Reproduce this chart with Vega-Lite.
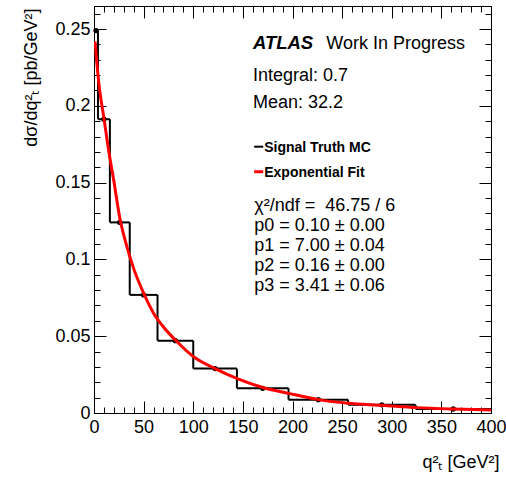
{
  "$schema": "https://vega.github.io/schema/vega-lite/v6.json",
  "width": 397,
  "height": 407,
  "autosize": "none",
  "padding": {"left": 94, "top": 6, "right": 15, "bottom": 64},
  "background": "white",
  "config": {
    "view": {"stroke": "black", "strokeWidth": 1},
    "font": "Liberation Sans",
    "axis": {
      "domainColor": "black", "domainWidth": 1, "tickColor": "black", "tickWidth": 1,
      "labelColor": "black", "labelFont": "Liberation Sans", "labelFontSize": 18,
      "titleColor": "black", "titleFont": "Liberation Sans", "titleFontSize": 18, "titleFontWeight": "normal",
      "grid": false, "labelOverlap": false, "labelFlush": false
    }
  },
  "datasets": {
    "hist": [
      {"lo": 0, "hi": 4, "center": 2, "val": 0.249},
      {"lo": 4, "hi": 16, "center": 10, "val": 0.1913},
      {"lo": 16, "hi": 36, "center": 26, "val": 0.1241},
      {"lo": 36, "hi": 64, "center": 50, "val": 0.0769},
      {"lo": 64, "hi": 100, "center": 82, "val": 0.0471},
      {"lo": 100, "hi": 144, "center": 122, "val": 0.0289},
      {"lo": 144, "hi": 196, "center": 170, "val": 0.0161},
      {"lo": 196, "hi": 256, "center": 226, "val": 0.0087},
      {"lo": 256, "hi": 324, "center": 290, "val": 0.0053},
      {"lo": 324, "hi": 400, "center": 362, "val": 0.0026}
    ],
    "fit": [
      {"q": 1, "f": 0.242}, {"q": 5, "f": 0.214}, {"q": 10, "f": 0.192}, {"q": 15, "f": 0.170},
      {"q": 20, "f": 0.151}, {"q": 26, "f": 0.127}, {"q": 32, "f": 0.111}, {"q": 40, "f": 0.094},
      {"q": 50, "f": 0.078}, {"q": 60, "f": 0.065}, {"q": 70, "f": 0.056}, {"q": 82, "f": 0.0475},
      {"q": 100, "f": 0.0368}, {"q": 122, "f": 0.0289}, {"q": 145, "f": 0.0222}, {"q": 170, "f": 0.0166},
      {"q": 196, "f": 0.0128}, {"q": 226, "f": 0.0087}, {"q": 256, "f": 0.0063}, {"q": 290, "f": 0.0050},
      {"q": 325, "f": 0.0035}, {"q": 362, "f": 0.0026}, {"q": 400, "f": 0.0020}
    ],
    "one": [{}]
  },
  "layer": [
    {
      "layer": [
        {
          "data": {"name": "hist"},
          "mark": {"type": "rule", "color": "black", "strokeWidth": 2},
          "encoding": {
            "x": {"field": "lo", "type": "quantitative", "scale": {"domain": [0, 400], "nice": false},
              "axis": {
                "orient": "bottom",
                "values": [0, 50, 100, 150, 200, 250, 300, 350, 400],
                "tickSize": -12,
                "labelPadding": 17, "labelOverlap": false, "labelFlush": false, "labelBound": false,
                "title": "q²ₜ [GeV²]",
                "titleAnchor": "end", "titleAlign": "right", "titleBaseline": "alphabetic",
                "titleX": 405, "titleY": 54
              }},
            "x2": {"field": "hi"},
            "y": {"field": "val", "type": "quantitative", "scale": {"domain": [0, 0.265], "nice": false},
              "axis": {
                "orient": "left",
                "values": [0, 0.05, 0.1, 0.15, 0.2, 0.25],
                "labelExpr": "format(datum.value, '~g')",
                "tickSize": -12,
                "labelPadding": 16, "labelOverlap": false, "labelFlush": false, "labelBound": false,
                "title": "dσ/dq²ₜ [pb/GeV²]",
                "titleAnchor": "end", "titleAlign": "right", "titleBaseline": "alphabetic", "titleAngle": 270,
                "titleX": -58, "titleY": 2
              }}
          }
        },
        {
          "data": {"name": "one"},
          "mark": {"type": "text", "text": "ATLAS", "fontSize": 18.5, "fontWeight": "bold", "fontStyle": "italic", "align": "left", "baseline": "alphabetic", "color": "black"},
          "encoding": {"x": {"datum": 160.1, "type": "quantitative"}, "y": {"datum": 0.237, "type": "quantitative"}}
        },
        {
          "data": {"name": "one"},
          "mark": {"type": "text", "text": "Work In Progress", "fontSize": 18, "align": "left", "baseline": "alphabetic", "color": "black"},
          "encoding": {"x": {"datum": 234, "type": "quantitative"}, "y": {"datum": 0.237, "type": "quantitative"}}
        },
        {
          "data": {"name": "one"},
          "mark": {"type": "text", "text": ["Integral: 0.7", "Mean: 32.2"], "lineHeight": 27.6, "fontSize": 18, "align": "left", "baseline": "alphabetic", "color": "black"},
          "encoding": {"x": {"datum": 160.1, "type": "quantitative"}, "y": {"datum": 0.2164, "type": "quantitative"}}
        },
        {
          "data": {"name": "one"},
          "mark": {"type": "rule", "color": "black", "strokeWidth": 2},
          "encoding": {"x": {"datum": 161.4, "type": "quantitative"}, "x2": {"datum": 170.5}, "y": {"datum": 0.1734, "type": "quantitative"}}
        },
        {
          "data": {"name": "one"},
          "mark": {"type": "text", "text": "Signal Truth MC", "fontSize": 14, "fontWeight": "bold", "align": "left", "baseline": "alphabetic", "color": "black"},
          "encoding": {"x": {"datum": 171.5, "type": "quantitative"}, "y": {"datum": 0.1701, "type": "quantitative"}}
        },
        {
          "data": {"name": "one"},
          "mark": {"type": "rule", "color": "#ff0000", "strokeWidth": 3},
          "encoding": {"x": {"datum": 161.4, "type": "quantitative"}, "x2": {"datum": 170.5}, "y": {"datum": 0.1571, "type": "quantitative"}}
        },
        {
          "data": {"name": "one"},
          "mark": {"type": "text", "text": "Exponential Fit", "fontSize": 14, "fontWeight": "bold", "align": "left", "baseline": "alphabetic", "color": "black"},
          "encoding": {"x": {"datum": 171.5, "type": "quantitative"}, "y": {"datum": 0.1539, "type": "quantitative"}}
        },
        {
          "data": {"name": "one"},
          "mark": {"type": "text", "text": ["χ²/ndf = \u00a046.75 / 6", "p0 = 0.10 ± 0.00", "p1 = 7.00 ± 0.04", "p2 = 0.16 ± 0.00", "p3 = 3.41 ± 0.06"], "lineHeight": 20, "fontSize": 18, "align": "left", "baseline": "alphabetic", "color": "black"},
          "encoding": {"x": {"datum": 161.4, "type": "quantitative"}, "y": {"datum": 0.1317, "type": "quantitative"}}
        }
      ]
    },
    {
      "data": {"name": "hist"},
      "transform": [
        {"window": [{"op": "lag", "field": "val", "as": "prev"}], "sort": [{"field": "lo"}]},
        {"filter": "datum.prev != null"}
      ],
      "mark": {"type": "rule", "color": "black", "strokeWidth": 2},
      "encoding": {
        "x": {"field": "lo", "type": "quantitative",
          "axis": {"orient": "bottom", "labels": false, "title": null, "tickSize": -6,
            "values": [10,20,30,40,60,70,80,90,110,120,130,140,160,170,180,190,210,220,230,240,260,270,280,290,310,320,330,340,360,370,380,390]}},
        "y": {"field": "val", "type": "quantitative",
          "axis": {"orient": "left", "labels": false, "title": null, "tickSize": -6,
            "values": [0.01,0.02,0.03,0.04,0.06,0.07,0.08,0.09,0.11,0.12,0.13,0.14,0.16,0.17,0.18,0.19,0.21,0.22,0.23,0.24,0.26]}},
        "y2": {"field": "prev"}
      }
    },
    {
      "data": {"name": "hist"},
      "mark": {"type": "circle", "color": "black", "opacity": 1, "size": 28},
      "encoding": {
        "x": {"field": "center", "type": "quantitative",
          "axis": {"orient": "top", "labels": false, "title": null, "tickSize": -12, "domain": true,
            "values": [0, 50, 100, 150, 200, 250, 300, 350, 400]}},
        "y": {"field": "val", "type": "quantitative",
          "axis": {"orient": "right", "labels": false, "title": null, "tickSize": -12, "domain": true,
            "values": [0, 0.05, 0.1, 0.15, 0.2, 0.25]}}
      }
    },
    {
      "data": {"name": "fit"},
      "mark": {"type": "line", "color": "#ff0000", "strokeWidth": 3, "interpolate": "monotone", "clip": true},
      "encoding": {
        "x": {"field": "q", "type": "quantitative",
          "axis": {"orient": "top", "labels": false, "title": null, "tickSize": -6,
            "values": [10,20,30,40,60,70,80,90,110,120,130,140,160,170,180,190,210,220,230,240,260,270,280,290,310,320,330,340,360,370,380,390]}},
        "y": {"field": "f", "type": "quantitative",
          "axis": {"orient": "right", "labels": false, "title": null, "tickSize": -6,
            "values": [0.01,0.02,0.03,0.04,0.06,0.07,0.08,0.09,0.11,0.12,0.13,0.14,0.16,0.17,0.18,0.19,0.21,0.22,0.23,0.24,0.26]}}
      }
    }
  ],
  "resolve": {"axis": {"x": "independent", "y": "independent"}}
}
